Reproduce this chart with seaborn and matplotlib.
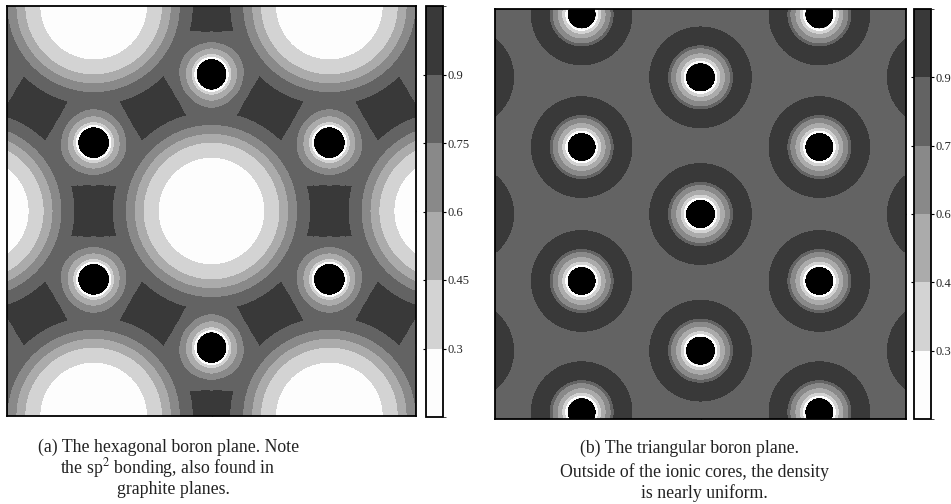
import numpy as np
import matplotlib
matplotlib.use('Agg')
import matplotlib.pyplot as plt
from matplotlib.colors import ListedColormap, BoundaryNorm
import seaborn as sns

# --- escala de grises (niveles de la barra de color) ---
level_bounds = [0.15, 0.3, 0.45, 0.6, 0.75, 0.9, 1.05]
level_colors = ['#fdfdfd', '#d3d3d3', '#ababab', '#898989', '#636363', '#393939']
core_color = '#000000'
cbar_ticks = [0.3, 0.45, 0.6, 0.75, 0.9]
cbar_labels_a = ['0.3', '0.45', '0.6', '0.75', '0.9']
cbar_labels_b = ['0.3', '0.4', '0.6', '0.7', '0.9']   # recortadas en el borde de la imagen

# --- (a) plano hexagonal: posiciones (unidades = enlace B-B) ---
hex_atom_x = [0.0, -0.866, 0.866, -0.866, 0.866, 0.0, 0.0, 0.0, -1.732, 1.732, -1.732, 1.732]
hex_atom_y = [1.0, 0.5, 0.5, -0.5, -0.5, -1.0, 2.0, -2.0, 1.0, 1.0, -1.0, -1.0]
hex_void_x = [0.0, -1.732, 1.732, -0.866, 0.866, -0.866, 0.866]
hex_void_y = [0.0, 0.0, 0.0, 1.5, 1.5, -1.5, -1.5]
hex_background = 0.95
# perfil radial (distancia -> ELF) alrededor de huecos y atomos
hex_void_r = [0.0, 0.37, 0.39, 0.50, 0.565, 0.63, 0.725, 0.84, 1.0]
hex_void_f = [0.16, 0.28, 0.30, 0.45, 0.60, 0.75, 0.90, 0.935, 0.95]
hex_atom_r = [0.0, 0.112, 0.113, 0.128, 0.146, 0.185, 0.23, 0.283, 0.355]
hex_atom_f = [1.2, 1.2, 0.20, 0.30, 0.45, 0.60, 0.75, 0.90, 0.95]

# --- (b) plano triangular ---
tri_atom_x = [0.0, 0.0, 0.0,
              -0.866, -0.866, -0.866, -0.866,
              0.866, 0.866, 0.866, 0.866,
              -1.732, -1.732, -1.732, 1.732, 1.732, 1.732]
tri_atom_y = [1.0, 0.0, -1.0,
              1.46, 0.49, -0.49, -1.45,
              1.46, 0.49, -0.49, -1.45,
              1.0, 0.0, -1.0, 1.0, 0.0, -1.0]
tri_background = 0.82
tri_atom_r = [0.0, 0.102, 0.103, 0.12, 0.142, 0.175, 0.212, 0.234, 0.255, 0.343, 0.372, 0.40]
tri_atom_f = [1.2, 1.2, 0.20, 0.30, 0.45, 0.60, 0.75, 0.90, 0.96, 0.96, 0.90, 0.82]

captions_a = ['(a) The hexagonal boron plane. Note',
              'the sp$^2$ bonding, also found in',
              'graphite planes.']
captions_b = ['(b) The triangular boron plane.',
              'Outside of the ionic cores, the density',
              'is nearly uniform.']

# --- malla ---
N = 410
half = 1.5
h = 2 * half / N
xs = np.linspace(-half + h / 2, half - h / 2, N)
ys = np.linspace(half - h / 2, -half + h / 2, N)   # fila 0 arriba
X, Y = np.meshgrid(xs, ys)


def add_sites(base, sx, sy, prof_r, prof_f):
    out = np.zeros_like(X)
    for x0, y0 in zip(sx, sy):
        d = np.hypot(X - x0, Y - y0)
        out += np.interp(d, prof_r, prof_f) - base
    return out


Z_hex = (hex_background
         + add_sites(hex_background, hex_void_x, hex_void_y, hex_void_r, hex_void_f)
         + add_sites(hex_background, hex_atom_x, hex_atom_y, hex_atom_r, hex_atom_f))
Z_tri = tri_background + add_sites(tri_background, tri_atom_x, tri_atom_y, tri_atom_r, tri_atom_f)

cmap = ListedColormap(level_colors)
cmap.set_over(core_color)
cmap.set_under(level_colors[0])
norm = BoundaryNorm(level_bounds, ncolors=len(level_colors))

sns.set_style('white')
plt.rcParams['font.family'] = ['Liberation Serif', 'DejaVu Serif']
plt.rcParams['mathtext.fontset'] = 'stix'

fig = plt.figure(figsize=(9.51, 5.04), dpi=100)
W, H = 951, 504
axL = fig.add_axes([7 / W, 1 - 416 / H, 409 / W, 410 / H])
caxL = fig.add_axes([426 / W, 1 - 417 / H, 17 / W, 411 / H])
axR = fig.add_axes([495 / W, 1 - 419 / H, 411 / W, 410 / H])
caxR = fig.add_axes([914 / W, 1 - 419 / H, 17 / W, 410 / H])

for ax, cax, Z, labels in [(axL, caxL, Z_hex, cbar_labels_a), (axR, caxR, Z_tri, cbar_labels_b)]:
    sns.heatmap(Z, ax=ax, cmap=cmap, norm=norm, cbar_ax=cax,
                cbar_kws={'ticks': cbar_ticks},
                xticklabels=False, yticklabels=False)
    for sp in ax.spines.values():
        sp.set_visible(True)
        sp.set_color('black')
        sp.set_linewidth(1.3)
    ax.set_xticks([N / 2])
    ax.set_yticks([N / 2])
    ax.set_xticklabels([])
    ax.set_yticklabels([])
    ax.tick_params(direction='in', length=6, width=1, color='black',
                   top=True, bottom=True, left=True, right=True)

    cb = ax.collections[0].colorbar
    cb.outline.set_visible(True)
    cb.outline.set_linewidth(1.3)
    cb.outline.set_edgecolor('black')
    cax.set_yticks(cbar_ticks)
    cax.set_yticklabels(labels)
    cax.tick_params(axis='y', direction='out', length=2, width=0.8, color='black',
                    left=True, right=True, labelsize=9, pad=1)

# --- pies de figura ---
for txt, (cx, cy) in zip(captions_a, [(169, 447), (168, 468), (173, 490)]):
    fig.text(cx / W, 1 - cy / H, txt, ha='center', va='center', fontsize=12.8, color='#222222')
for txt, (cx, cy) in zip(captions_b, [(690, 448), (694, 472), (704, 493)]):
    fig.text(cx / W, 1 - cy / H, txt, ha='center', va='center', fontsize=12.8, color='#222222')

fig.savefig('out.png', dpi=100)
